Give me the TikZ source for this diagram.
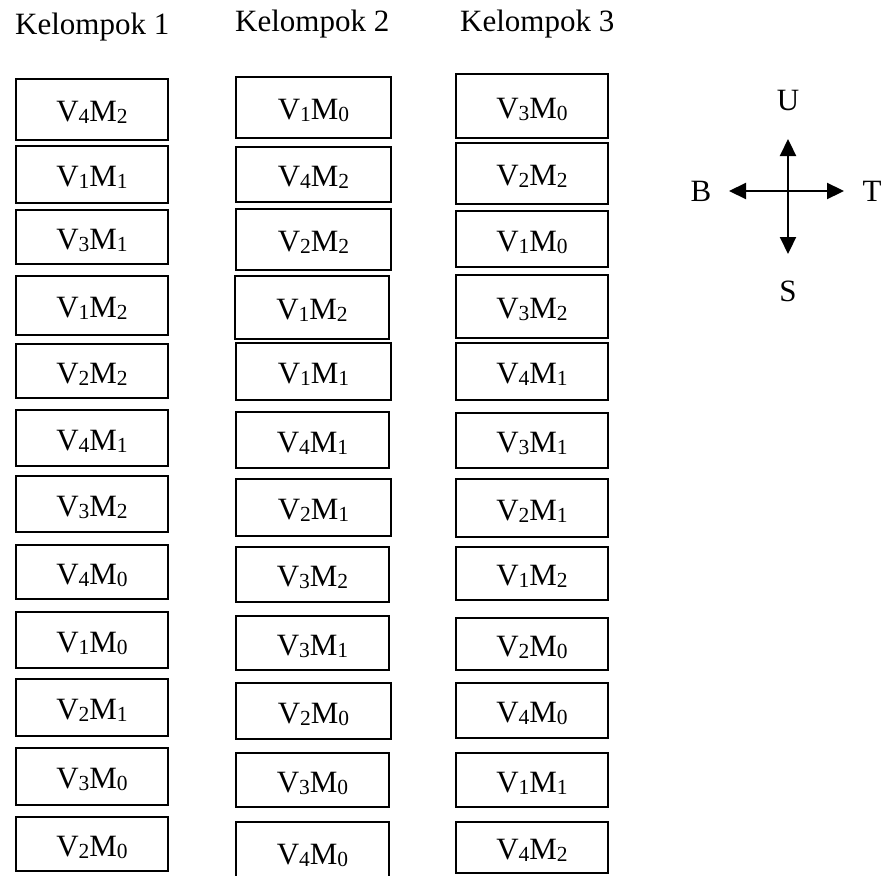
\documentclass[tikz,border=0pt]{standalone}
\usepackage{fontspec}
\setmainfont{Liberation Serif}
\usetikzlibrary{arrows.meta}
\newcommand\sbs[1]{\raisebox{-2pt}{\fontsize{21.5}{21.5}\selectfont #1}}
\newcommand\cellnode[7]{%
  \node[cellbox, minimum width={(#4-#2)*1pt}, minimum height={(#5-#3)*1pt}]
    (#1) at ({(#2+#4)/2},{(#3+#5)/2}) {V\sbs{#6}M\sbs{#7}};}
\tikzset{
  cellbox/.style={draw=black, line width=1.8pt, inner sep=0pt, text height=24pt, text depth=0pt,
    font=\fontsize{31}{36}\selectfont},
  head/.style={anchor=base west, inner sep=0pt, font=\fontsize{31}{36}\selectfont},
  dirlbl/.style={anchor=base, inner sep=0pt, font=\fontsize{31}{36}\selectfont},
  compass/.style={line width=2.2pt, {Triangle[length=17pt,width=16pt]}-{Triangle[length=17pt,width=16pt]}}
}
\begin{document}
\begin{tikzpicture}[x=1pt,y=-1pt]
\useasboundingbox (0,0) rectangle (885,875);
\clip (0,0) rectangle (885,875);
% headers
\node[head] (h1) at (15,35) {Kelompok 1};
\node[head] (h2) at (235,32) {Kelompok 2};
\node[head] (h3) at (460,32) {Kelompok 3};
% column 1
\cellnode{a1}{16}{79}{168}{140}{4}{2}
\cellnode{a2}{16}{146}{168}{203}{1}{1}
\cellnode{a3}{16}{210}{168}{264}{3}{1}
\cellnode{a4}{16}{276}{168}{335}{1}{2}
\cellnode{a5}{16}{344}{168}{398}{2}{2}
\cellnode{a6}{16}{410}{168}{466}{4}{1}
\cellnode{a7}{16}{476}{168}{532}{3}{2}
\cellnode{a8}{16}{545}{168}{599}{4}{0}
\cellnode{a9}{16}{612}{168}{668}{1}{0}
\cellnode{a10}{16}{679}{168}{736}{2}{1}
\cellnode{a11}{16}{748}{168}{805}{3}{0}
\cellnode{a12}{16}{817}{168}{871}{2}{0}
% column 2
\cellnode{b1}{236}{77}{391}{138}{1}{0}
\cellnode{b2}{236}{147}{391}{202}{4}{2}
\cellnode{b3}{236}{209}{391}{270}{2}{2}
\cellnode{b4}{235}{276}{389}{339}{1}{2}
\cellnode{b5}{236}{343}{391}{400}{1}{1}
\cellnode{b6}{236}{412}{389}{468}{4}{1}
\cellnode{b7}{236}{479}{391}{536}{2}{1}
\cellnode{b8}{236}{547}{389}{602}{3}{2}
\cellnode{b9}{236}{616}{389}{670}{3}{1}
\cellnode{b10}{236}{683}{391}{739}{2}{0}
\cellnode{b11}{236}{753}{389}{807}{3}{0}
\cellnode{b12}{236}{822}{389}{882}{4}{0}
% column 3
\cellnode{c1}{456}{74}{608}{138}{3}{0}
\cellnode{c2}{456}{143}{608}{204}{2}{2}
\cellnode{c3}{456}{211}{608}{267}{1}{0}
\cellnode{c4}{456}{275}{608}{338}{3}{2}
\cellnode{c5}{456}{343}{608}{400}{4}{1}
\cellnode{c6}{456}{413}{608}{468}{3}{1}
\cellnode{c7}{456}{479}{608}{537}{2}{1}
\cellnode{c8}{456}{547}{608}{600}{1}{2}
\cellnode{c9}{456}{618}{608}{670}{2}{0}
\cellnode{c10}{456}{683}{608}{738}{4}{0}
\cellnode{c11}{456}{753}{608}{807}{1}{1}
\cellnode{c12}{456}{822}{608}{873}{4}{2}
% compass
\coordinate (tn) at (788,139);
\coordinate (ts) at (788,254);
\coordinate (tw) at (729,191);
\coordinate (te) at (844,191);
\draw[compass] (tn) -- (ts);
\draw[compass] (tw) -- (te);
\node[dirlbl] (U) at (788,110) {U};
\node[dirlbl] (S) at (788,301) {S};
\node[dirlbl] (B) at (701,201) {B};
\node[dirlbl] (T) at (872,201) {T};
\end{tikzpicture}
\end{document}
